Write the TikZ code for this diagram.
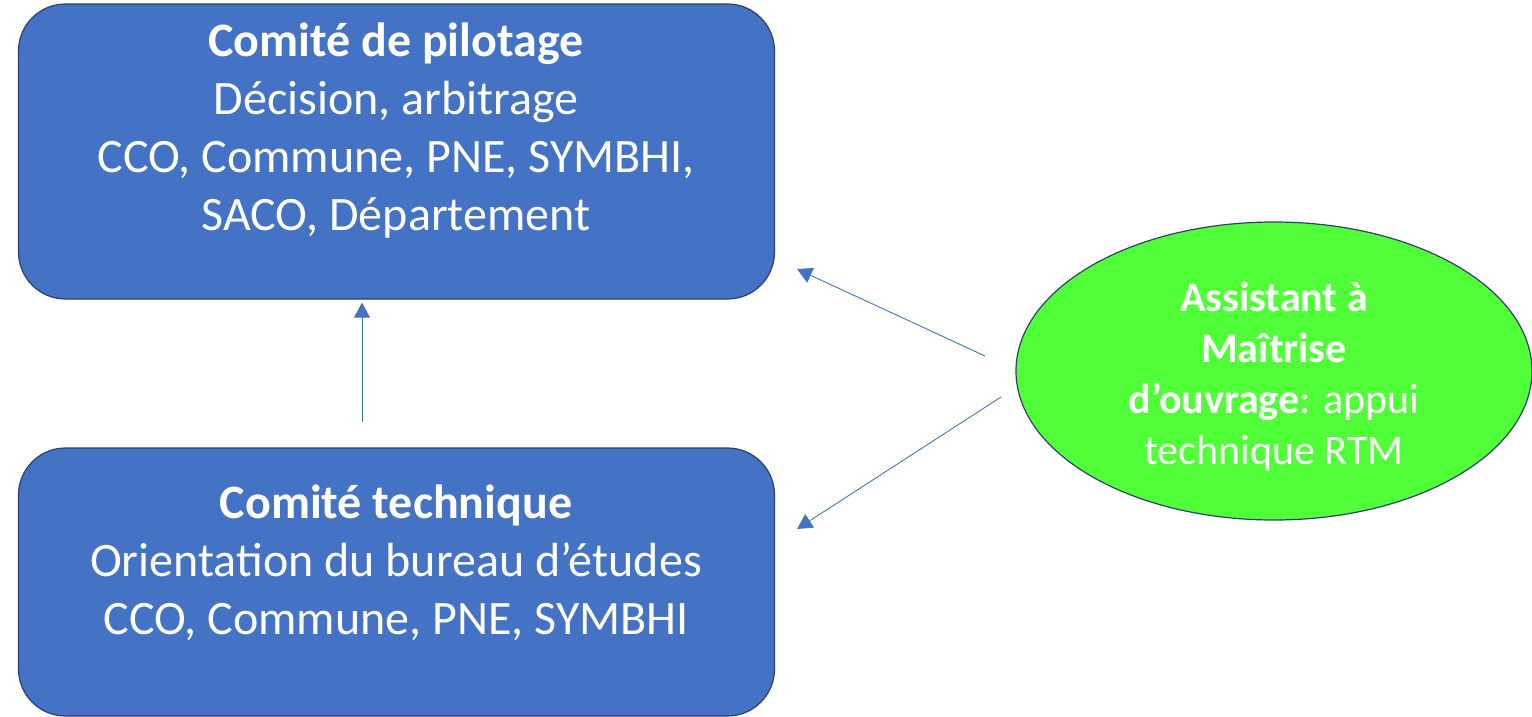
\documentclass[tikz,border=0pt]{standalone}
\usepackage{fontspec}
\setmainfont{Carlito}
\usetikzlibrary{arrows.meta,shapes.geometric}
\definecolor{boxblue}{HTML}{4472C4}
\definecolor{boxedge}{HTML}{2F3F6F}
\definecolor{ovalgreen}{HTML}{50FF38}
\tikzset{
  blockbox/.style={draw=boxedge, line width=1.2pt, fill=boxblue, rounded corners=47pt, inner sep=0pt},
  ovalbox/.style={ellipse, draw=boxedge, line width=1.2pt, fill=ovalgreen, inner sep=0pt},
  boxtext/.style={text=white, align=center, font=\fontsize{48}{58}\selectfont, inner sep=0pt},
  ovaltext/.style={text=white, align=center, font=\fontsize{42}{51}\selectfont, inner sep=0pt},
  conn/.style={draw=boxblue, line width=0.9pt, -{Triangle[length=15pt,width=16pt]}}
}
\begin{document}
\begin{tikzpicture}[x=1pt,y=-1pt]
\useasboundingbox (0,0) rectangle (1532,717);
\node[blockbox, minimum width=756pt, minimum height=295pt] (pil) at (396.5,151.5) {};
\node[blockbox, minimum width=756pt, minimum height=268pt] (tec) at (396.5,582) {};
\node[ovalbox, minimum width=516pt, minimum height=298pt] (amo) at (1274,371) {};
\node[boxtext] (piltxt) at (396,131) {\textbf{Comité de pilotage}\\Décision, arbitrage\\CCO, Commune, PNE, SYMBHI,\\SACO, Département};
\node[boxtext] (tectxt) at (396,563) {\textbf{Comité technique}\\Orientation du bureau d’études\\CCO, Commune, PNE, SYMBHI};
\node[ovaltext] (amotxt) at (1274,377) {\textbf{Assistant à}\\\textbf{Maîtrise}\\\textbf{d’ouvrage}: appui\\technique RTM};
\coordinate (vx) at (362,0);
\coordinate (s1) at (985,356);
\coordinate (t1) at (797,269);
\coordinate (s2) at (1001,397);
\coordinate (t2) at (797,529);
\draw[conn, shorten <=25pt, shorten >=3pt] (tec.north -| vx) -- (pil.south -| vx);
\draw[conn] (s1) -- (t1);
\draw[conn] (s2) -- (t2);
\end{tikzpicture}
\end{document}
